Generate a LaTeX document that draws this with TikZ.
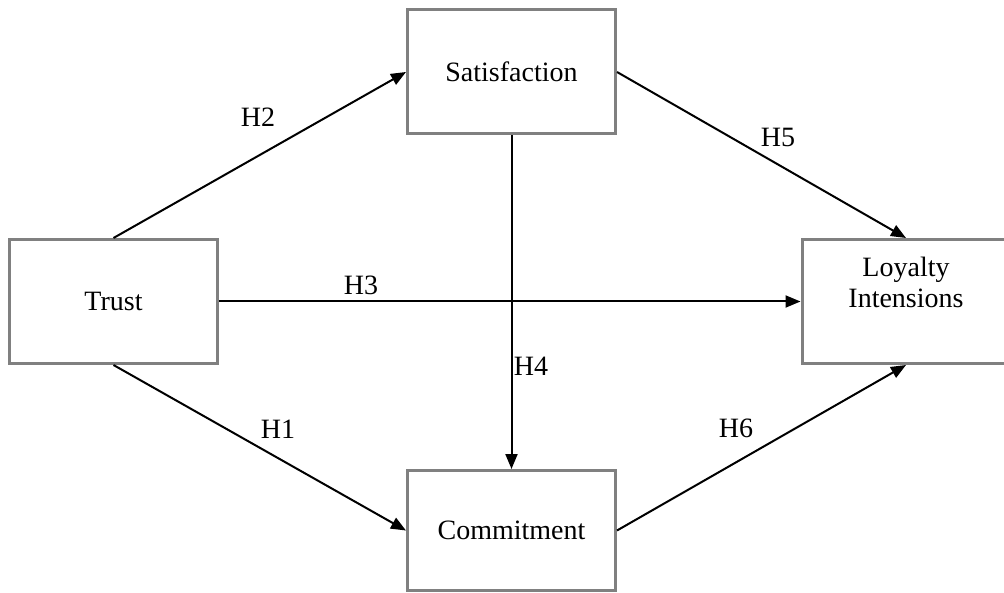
\documentclass[tikz,border=0pt]{standalone}
\usepackage{fontspec}
\setmainfont{Liberation Serif}
\usepackage{tikz}
\usetikzlibrary{arrows.meta,positioning}
\definecolor{BoxGray}{HTML}{808080}

\begin{document}
\begin{tikzpicture}[
  x=1pt, y=-1pt,
  node distance=104pt and 187pt,
  box/.style={draw=BoxGray,line width=3pt,minimum width=208pt,minimum height=124pt,
    inner sep=0pt,align=center,font=\fontsize{28}{31}\selectfont},
  arrow/.style={-{Triangle[length=15pt,width=12pt]},line width=2pt},
  hyp/.style={inner sep=0pt,font=\fontsize{28}{31}\selectfont}
]
  \useasboundingbox (0,0) rectangle (1004,593);

  \node[box] (trust) at (113.5,301.5) {Trust};
  \node[box, above right=102.5pt and 187pt of trust] (satis) {Satisfaction};
  \node[box, below right=of trust, minimum height=120pt] (commit) {Commitment};
  \node[box, right=581.5pt of trust] (loyalty) {Loyalty\\Intensions\\[7pt]~};

  \draw[arrow] (trust.north) -- (satis.west);
  \draw[arrow] (trust.east) -- (loyalty.west);
  \draw[arrow] (trust.south) -- (commit.west);
  \draw[arrow] (satis.south) -- (commit.north);
  \draw[arrow] (satis.east) -- (loyalty.north);
  \draw[arrow] (commit.east) -- (loyalty.south);

  \node[hyp] (h2) at (258,117) {H2};
  \node[hyp] (h3) at (361,285) {H3};
  \node[hyp] (h1) at (278,429) {H1};
  \node[hyp] (h4) at (531,366) {H4};
  \node[hyp] (h5) at (778,137) {H5};
  \node[hyp] (h6) at (736,428) {H6};
\end{tikzpicture}
\end{document}
